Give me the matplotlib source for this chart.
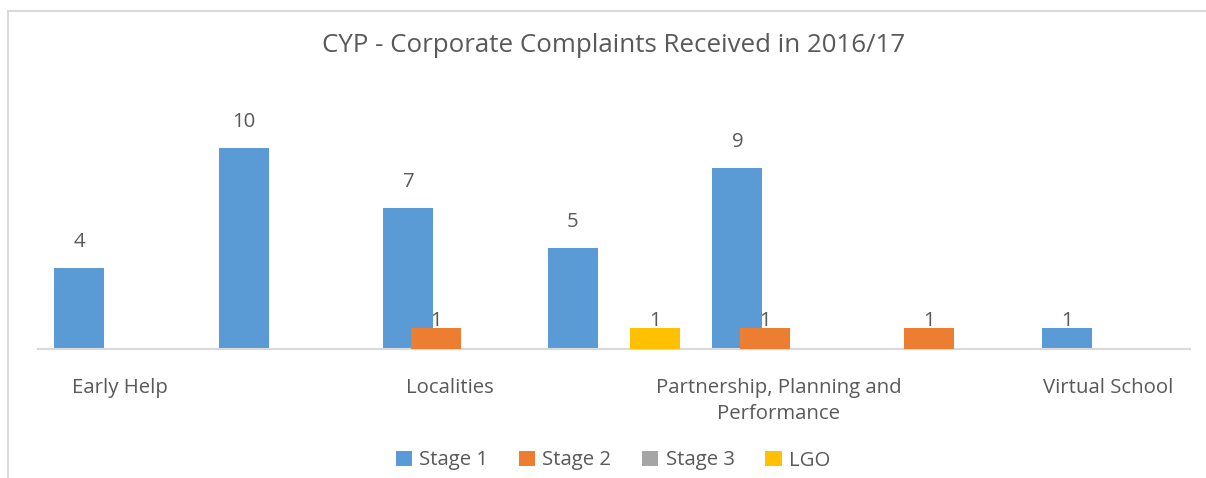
import matplotlib.pyplot as plt
import numpy as np
from matplotlib.patches import Patch
from matplotlib.lines import Line2D

categories = ['Early Help', '', 'Localities', '',
              'Partnership, Planning and\nPerformance', '', 'Virtual School']
series_names = ['Stage 1', 'Stage 2', 'Stage 3', 'LGO']
stage1 = [4, 10, 7, 5, 9, np.nan, 1]
stage2 = [np.nan, np.nan, 1, np.nan, 1, 1, np.nan]
stage3 = [np.nan] * 7
lgo = [np.nan, np.nan, np.nan, 1, np.nan, np.nan, np.nan]
title = 'CYP - Corporate Complaints Received in 2016/17'

colors = ['#5B9BD5', '#ED7D31', '#A5A5A5', '#FFC000']
text_color = '#595959'
font = 'Open Sans'
plt.rcParams['font.family'] = [font, 'DejaVu Sans']

W, H = 1206, 478
fig = plt.figure(figsize=(W / 100, H / 100), dpi=100)

# outer chart frame (top and left edges visible)
fig.add_artist(Line2D([8 / W, 8 / W], [0, 1 - 10.5 / H], transform=fig.transFigure,
                      color='#D9D9D9', lw=1.4))
fig.add_artist(Line2D([8 / W, 1], [1 - 10.5 / H, 1 - 10.5 / H], transform=fig.transFigure,
                      color='#D9D9D9', lw=1.4))

ax = fig.add_axes([38 / W, 1 - 348.5 / H, (1190 - 38) / W, 241 / H])
x = np.arange(len(categories))
all_series = [stage1, stage2, stage3, lgo]
step = 0.1665
width = 0.304
fs = 14.7
for i, (vals, c) in enumerate(zip(all_series, colors)):
    pos = x + (i - 1.5) * step
    v = np.array(vals, dtype=float)
    ax.bar(pos, np.nan_to_num(v), width=width, color=c, zorder=2 + i)
    for px, val in zip(pos, v):
        if np.isnan(val):
            continue
        pad = 7 if val == 1 else 26
        ax.annotate(f'{int(val)}', (px, val), xytext=(0, pad * 0.72), textcoords='offset points',
                    ha='center', va='center', fontsize=fs, color=text_color, zorder=10)

ax.set_xlim(-0.5, len(categories) - 0.5)
ax.set_ylim(0, 12)
for s in ['top', 'left', 'right']:
    ax.spines[s].set_visible(False)
ax.spines['bottom'].set_color('#D9D9D9')
ax.spines['bottom'].set_linewidth(1.5)
ax.set_yticks([])
ax.set_xticks(x)
ax.set_xticklabels(categories, fontsize=fs, color=text_color, linespacing=1.4)
ax.tick_params(axis='x', length=0, pad=21)

fig.text(614 / W, 1 - 45 / H, title, ha='center', va='center', fontsize=18.6, color=text_color)

handles = [Patch(facecolor=c, edgecolor='none') for c in colors]
fig.legend(handles, series_names, loc='center', bbox_to_anchor=(613 / W, 1 - 460.5 / H),
           ncol=4, frameon=False, fontsize=fs, labelcolor=text_color,
           handlelength=0.8, handleheight=0.8, handletextpad=0.35, columnspacing=1.5)

fig.savefig('out.png', dpi=100)
